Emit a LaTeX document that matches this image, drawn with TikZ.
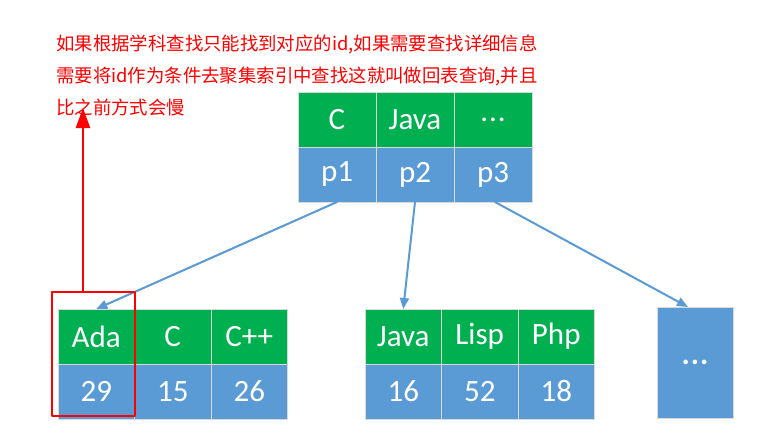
\documentclass[tikz,border=0pt]{standalone}
\usepackage{fontspec}
\setmainfont{Carlito}
\newfontfamily\cjk{Noto Sans CJK SC}
\usetikzlibrary{positioning}
\usetikzlibrary{arrows.meta}
\definecolor{keygreen}{HTML}{00B050}
\definecolor{ptrblue}{HTML}{5B9BD5}
\definecolor{cellline}{HTML}{D9D9D9}
\tikzset{
	keycell/.style={fill=keygreen,draw=cellline,line width=1pt,text=white,minimum width=76.5pt,minimum height=55pt,inner sep=0pt,outer sep=0pt,font=\fontsize{31}{31}\selectfont},
	ptrcell/.style={keycell,fill=ptrblue},
	note/.style={text=red,anchor=base west,inner sep=0pt,font=\cjk\fontsize{18.4}{18.4}\selectfont},
	link/.style={ptrblue,line width=2pt,-{Triangle[length=11pt,width=9pt]}}
}
\begin{document}
	\begin{tikzpicture}[line cap=round,line join=round,x=1pt,y=-1pt]
		\useasboundingbox[fill=white] (0,0) rectangle (772,439);
		% note text
		\node[note] (line1) at (56,50) {如果根据学科查找只能找到对应的id,如果需要查找详细信息};
		\node[note] (line2) at (56,82) {需要将id作为条件去聚集索引中查找这就叫做回表查询,并且};
		\node[note] (line3) at (56,114) {比之前方式会慢};
		% root page
		\node[keycell,minimum width=78pt,anchor=north west] (rootc) at (298,92) {C};
		\node[keycell,minimum width=78pt,right=0pt of rootc] (rootjava) {Java};
		\node[keycell,minimum width=78pt,right=0pt of rootjava] (rootmore) {.\kern1pt.\kern1pt.};
		\node[ptrcell,minimum width=78pt,below=0pt of rootc] (p1) {p1};
		\node[ptrcell,minimum width=78pt,below=0pt of rootjava] (p2) {p2};
		\node[ptrcell,minimum width=78pt,below=0pt of rootmore] (p3) {p3};
		% first leaf
		\node[keycell,anchor=north west] (ada) at (58,309) {Ada};
		\node[keycell,right=0pt of ada] (c) {C};
		\node[keycell,right=0pt of c] (cpp) {C++};
		\node[ptrcell,below=0pt of ada] (id29) {29};
		\node[ptrcell,below=0pt of c] (id15) {15};
		\node[ptrcell,below=0pt of cpp] (id26) {26};
		% second leaf
		\node[keycell,anchor=north west] (java) at (365,309) {Java};
		\node[keycell,right=0pt of java] (lisp) {Lisp};
		\node[keycell,right=0pt of lisp] (php) {Php};
		\node[ptrcell,below=0pt of java] (id16) {16};
		\node[ptrcell,below=0pt of lisp] (id52) {52};
		\node[ptrcell,below=0pt of php] (id18) {18};
		% third leaf
		\node[ptrcell,minimum width=76pt,minimum height=111pt,anchor=north west] (leafmore) at (657,307) {\textbf{.\kern1pt.\kern1pt.}};
		% links
		\draw[link] (p1.south) -- (ada.north);
		\draw[link] (p2.south) -- (java.north);
		\draw[link] ([xshift=2pt]p3.south) -- ([xshift=-7pt]leafmore.north);
		% highlight
		\node[draw=red,line width=2.2pt,minimum width=83pt,minimum height=124pt,anchor=north west,outer sep=0pt] (hl) at (52,292) {};
		\coordinate (tip) at (83,108);
		\draw[red,line width=2.5pt,line cap=butt,-{Triangle[length=20pt,width=14pt]}] (hl.north -| tip) -- (tip);
	\end{tikzpicture}
\end{document}
